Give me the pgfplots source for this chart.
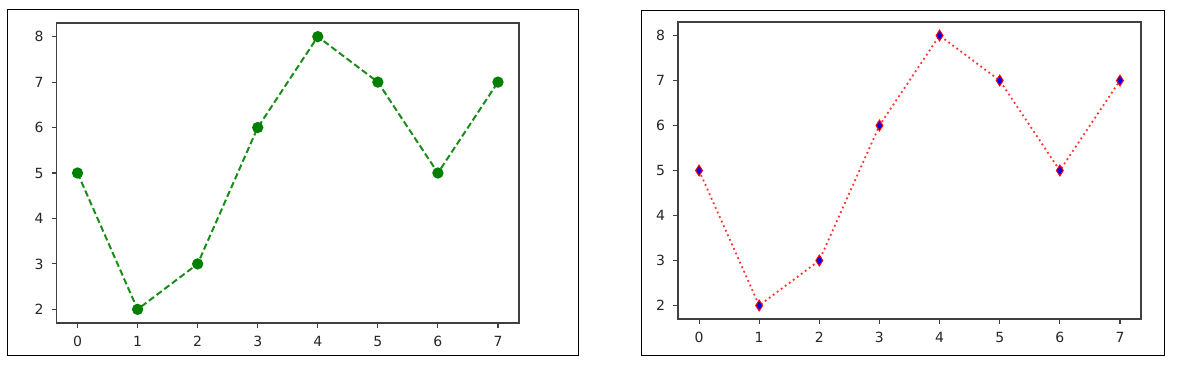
\documentclass[border=0pt]{standalone}
\usepackage{fontspec}
\setmainfont{DejaVu Sans}
\usepackage{pgfplots}
\pgfplotsset{compat=1.18}
\definecolor{mplgreen}{HTML}{008000}
\definecolor{mplred}{HTML}{FF0000}
\definecolor{mplblue}{HTML}{0000FF}
\pgfplotstableread{
x y
0 5
1 2
2 3
3 6
4 8
5 7
6 5
7 7
}\datatable
\pgfplotsset{
  mplstyle/.style={
    scale only axis,
    anchor=south west,
    xmin=-0.35, xmax=7.35, ymin=1.7, ymax=8.3,
    xtick={0,...,7}, ytick={2,...,8},
    tick align=outside, tick pos=left,
    major tick length=2.4pt,
    axis line style={black!75, line width=0.55pt},
    every tick/.style={black!75, line width=0.55pt},
    tick label style={font=\fontsize{7}{8}\selectfont, text=black!85},
    /pgf/number format/assume math mode=true,
    xticklabel style={yshift=-0.6pt},
    yticklabel style={xshift=-0.6pt},
    clip=false,
  }
}
\begin{document}
\begin{tikzpicture}
\path (0,0) rectangle (596pt,184.5pt);
\draw[black, line width=0.5pt] (3.5pt,7pt) rectangle (289pt,179.5pt);
\draw[black, line width=0.5pt] (320.5pt,7pt) rectangle (582pt,179pt);
\begin{axis}[mplstyle, at={(28.25pt,23pt)}, width=231.25pt, height=150pt]
\addplot[mplgreen!90!white, line width=1pt, dash pattern=on 3.2pt off 1.6pt,
  mark=*, mark size=2.3pt, mark options={solid, fill=mplgreen, draw=mplgreen}]
  table[x=x, y=y] {\datatable};
\end{axis}
\begin{axis}[mplstyle, at={(339pt,25pt)}, width=231.5pt, height=148.5pt]
\addplot[mplred!80!white, line width=0.9pt, dash pattern=on 0.9pt off 1.6pt,
  mark=diamond*, mark size=2.7pt, mark options={solid, fill=mplblue, draw=mplred, line width=0.5pt, xscale=0.85}]
  table[x=x, y=y] {\datatable};
\end{axis}
\end{tikzpicture}
\end{document}
